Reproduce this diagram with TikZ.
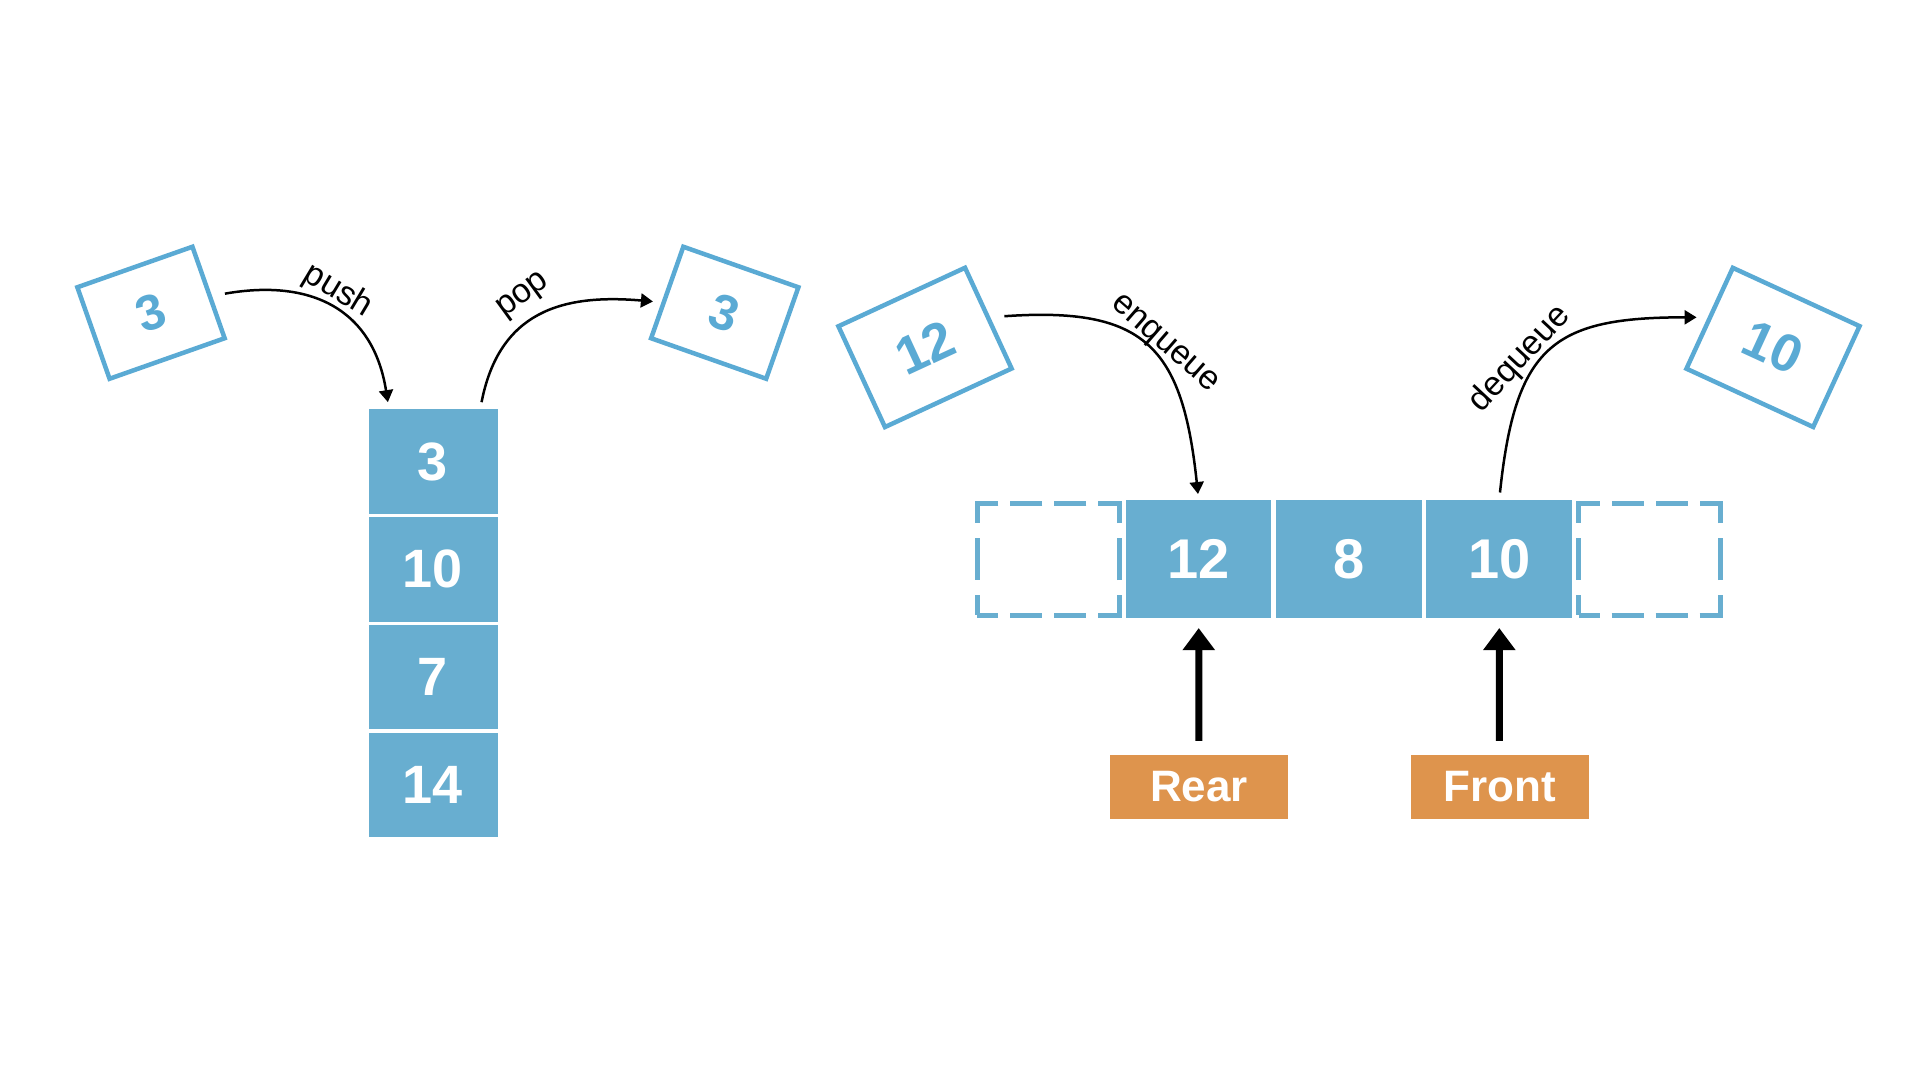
\documentclass[tikz,border=0pt]{standalone}
\usepackage{fontspec}
\setmainfont{Liberation Sans}
\usetikzlibrary{arrows.meta}
\definecolor{qblue}{HTML}{68AED0}
\definecolor{cblue}{HTML}{5AAAD4}
\definecolor{qorange}{HTML}{DE944D}

\begin{document}
\begin{tikzpicture}[x=1pt,y=1pt,
	cell/.style={fill=qblue,text=white,font=\fontsize{54}{60}\selectfont\bfseries,inner sep=0pt,minimum width=129pt,minimum height=104.5pt},
	qcell/.style={cell,font=\fontsize{56}{60}\selectfont\bfseries,minimum width=145.5pt,minimum height=117.7pt},
	slot/.style={draw=qblue,line width=5pt,inner sep=0pt,minimum width=142pt,minimum height=112pt,
		dash pattern=on 41pt off 12pt on 32pt off 12pt on 32pt off 12pt on 41pt off 15pt on 42pt off 15pt,dash phase=20pt},
	card/.style={draw=cblue,line width=4.5pt,text=cblue,font=\fontsize{50}{60}\selectfont\bfseries,inner sep=0pt,minimum width=122pt,minimum height=97pt},
	bigcard/.style={card,font=\fontsize{53}{60}\selectfont\bfseries,minimum width=139.5pt,minimum height=111pt},
	tag/.style={fill=qorange,text=white,font=\fontsize{44}{50}\selectfont\bfseries,inner sep=0pt,minimum width=178pt,minimum height=64pt},
	lbl/.style={font=\fontsize{34}{40}\selectfont,inner sep=0pt},
	flow/.style={-{Triangle[length=12pt,width=14pt]},line width=2.5pt},
	ptr/.style={-{Triangle[length=22pt,width=31pt]},line width=7pt}]
	\useasboundingbox (0,0) rectangle (1920,-1080);
	\fill[white] (0,0) rectangle (1920,-1080);

	% stack
	\foreach \v [count=\i] in {3,10,7,14}
		\node[cell] (s\i) at (433,-353.7-107.8*\i) {\v};
	\node[card,rotate=19.4] (in3) at (151,-312.75) {3};
	\node[card,rotate=-19.4] (out3) at (724.75,-312.75) {3};
	\draw[flow,shorten <=13pt,shorten >=7pt] (in3.-4) to[out=10,in=99,looseness=1.23] (s1.130);
	\draw[flow,shorten <=7pt,shorten >=8.5pt] (s1.48) to[out=79,in=175,looseness=1.21] (out3.190);
	\node[lbl,rotate=-31] (pushL) at (338,-291) {push};
	\node[lbl,rotate=36] (popL) at (524,-296) {pop};

	% queue
	\node[slot] (q0) at (1048.3,-559) {};
	\foreach \v [count=\i] in {12,8,10}
		\node[qcell] (q\i) at (1048.3+150.3*\i,-559) {\v};
	\node[slot] (q4) at (1649.5,-559) {};
	\node[bigcard,rotate=24.8] (in12) at (925,-347.4) {12};
	\node[bigcard,rotate=-24.7] (out10) at (1773,-347.4) {10};
	\draw[flow,shorten <=14pt,shorten >=6pt] (in12.east) to[out=4,in=96,looseness=1.43] (q1.north);
	\draw[flow,shorten <=7.5pt,shorten >=11pt] (q3.north) to[out=84,in=180,looseness=1.43] (out10.west);
	\node[lbl,rotate=-41] (enqL) at (1164,-345) {enqueue};
	\node[lbl,rotate=47] (deqL) at (1520,-359) {dequeue};

	\node[tag] (rear) at (1199,-787) {Rear};
	\node[tag] (front) at (1499.5,-787) {Front};
	\draw[ptr,shorten <=14pt,shorten >=10pt] (rear) -- (q1);
	\draw[ptr,shorten <=14pt,shorten >=10pt] (front) -- (q3);
\end{tikzpicture}
\end{document}
